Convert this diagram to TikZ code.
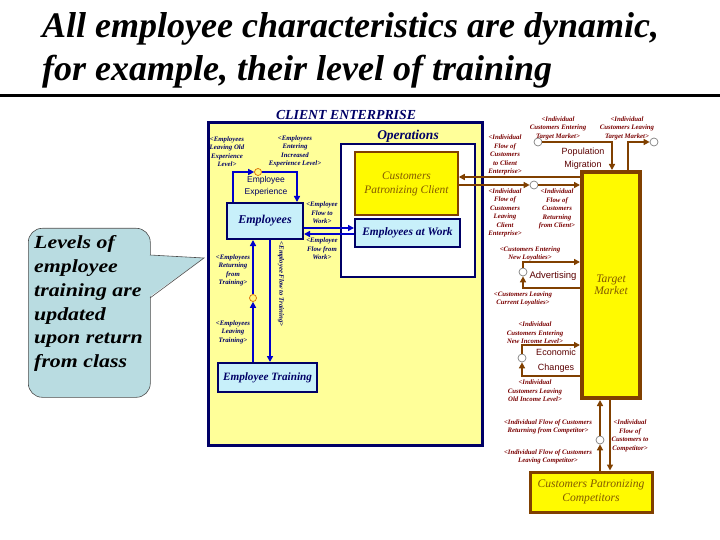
\documentclass[tikz,border=0pt]{standalone}
\usepackage{fontspec}
\setmainfont{Liberation Serif}
\newfontfamily\sansf{Liberation Sans}
\usetikzlibrary{arrows.meta,calc}
\definecolor{navy}{RGB}{0,0,102}
\definecolor{flowblue}{RGB}{0,0,204}
\definecolor{brownf}{RGB}{128,64,0}
\definecolor{lblred}{RGB}{120,0,0}
\definecolor{lightyel}{RGB}{255,255,153}
\definecolor{brightyel}{RGB}{255,250,0}
\definecolor{lightcyan}{RGB}{200,240,250}
\definecolor{calloutfill}{RGB}{185,220,225}
\definecolor{goldtext}{RGB}{130,90,0}
\definecolor{darkred}{RGB}{90,0,0}
\begin{document}
\begin{tikzpicture}[x=1pt,y=-1pt,
  outerbox/.style={draw=navy,fill=lightyel,line width=3pt,inner sep=0},
  opsbox/.style={draw=navy,fill=white,line width=2pt,inner sep=0},
  cyanbox/.style={draw=navy,fill=lightcyan,line width=2pt,inner sep=0,text=navy,font=\bfseries\itshape},
  yelbox/.style={draw=brownf,fill=brightyel,inner sep=0,text=goldtext,font=\itshape,align=center},
  bflow/.style={draw=flowblue,line width=2.4pt,-{Triangle[length=6pt,width=6pt]}},
  brflow/.style={draw=brownf,line width=2.4pt,-{Triangle[length=6pt,width=6pt]}},
  bvalve/.style={circle,draw=orange!85!black,fill=yellow!50,line width=0.7pt,minimum size=7pt,inner sep=0},
  cloudv/.style={circle,draw=gray,fill=white,line width=0.7pt,minimum size=8pt,inner sep=0},
  lbl/.style={font=\fontsize{6.8}{8.5}\selectfont\bfseries\itshape,align=center,inner sep=0,text=navy},
  rlbl/.style={lbl,text=lblred},
  sanslbl/.style={font=\sansf\fontsize{9}{13}\selectfont,align=center,inner sep=0},
  titletext/.style={font=\fontsize{36}{40}\selectfont\bfseries\itshape,inner sep=0,anchor=base west}]
\useasboundingbox (0,0) rectangle (720,540);
% title
\node[titletext] (t1) at (42,38) {All employee characteristics are dynamic,};
\node[titletext] (t2) at (42,81) {for example, their level of training};
\draw[line width=3pt] (0,96) -- (720,96);
% client enterprise
\node[font=\fontsize{13.8}{15}\selectfont\bfseries\itshape,text=navy,inner sep=0] (cetitle) at (346,115.5) {CLIENT ENTERPRISE};
\node[outerbox,minimum width=274pt,minimum height=322pt] (ce) at (345,284) {};
\node[font=\fontsize{13.5}{15}\selectfont\bfseries\itshape,text=navy,inner sep=0] (opstitle) at (408,136) {Operations};
\node[opsbox,minimum width=134pt,minimum height=133pt] (ops) at (408,210.5) {};
\node[yelbox,line width=1.5pt,minimum width=103pt,minimum height=63pt,font=\fontsize{11.4}{14}\selectfont\itshape] (cpc) at (406.5,183.5) {Customers\\Patronizing Client};
\node[cyanbox,minimum width=105pt,minimum height=28pt,font=\fontsize{11.4}{12}\selectfont\bfseries\itshape] (ew) at (407.5,233) {Employees at Work};
\node[cyanbox,minimum width=76pt,minimum height=36pt,font=\fontsize{12}{14}\selectfont\bfseries\itshape] (emp) at (265,221) {Employees};
\node[cyanbox,minimum width=99pt,minimum height=29pt,font=\fontsize{11.2}{12}\selectfont\bfseries\itshape] (et) at (267.5,377.5) {Employee Training};
\node[sanslbl,text=navy,font=\sansf\fontsize{8.5}{12.5}\selectfont] (eexp) at (266,186.5) {Employee\\Experience};
% right side boxes
\node[yelbox,line width=4pt,minimum width=58pt,minimum height=226pt,font=\fontsize{11.6}{12.5}\selectfont\itshape] (tm) at (611,285) {Target\\Market};
\node[yelbox,line width=3pt,minimum width=122pt,minimum height=40pt,font=\fontsize{11.6}{13.5}\selectfont\itshape] (comp) at (591,492) {Customers Patronizing\\Competitors};
\node[sanslbl,text=darkred] (popm) at (583,158.5) {Population\\Migration};
\node[sanslbl,text=darkred,font=\sansf\fontsize{9.5}{13}\selectfont] (adv) at (553,276) {Advertising};
\node[sanslbl,text=darkred,font=\sansf\fontsize{9}{15}\selectfont] (econ) at (556,360.5) {Economic\\Changes};
% callout
\node[draw=black!70,fill=calloutfill,line width=0.6pt,rounded corners=14pt,minimum width=122pt,minimum height=169pt,anchor=north west,inner sep=0] (cb) at (28,228) {};
\fill[calloutfill] (148,255) -- (204,258) -- (148,298) -- cycle;
\draw[black!70,line width=0.6pt] (150,255) -- (204,258) -- (150,298);
\node[font=\fontsize{18.5}{23.8}\selectfont\bfseries\itshape,align=left,anchor=north west,inner sep=0,xscale=1.18] (ct) at (34,235.5) {Levels of\\employee\\training are\\updated\\upon return\\from class};
% coordinates
\coordinate (c3) at (270,0);
\coordinate (c4) at (0,228);
\coordinate (c5) at (0,234);
\coordinate (c6) at (0,177);
\coordinate (c8) at (612,0);
\coordinate (c9) at (628,0);
\coordinate (c10b) at (0,288);
\coordinate (c10t) at (0,262);
\coordinate (c11b) at (0,376);
\coordinate (c11t) at (0,345);
\coordinate (c13) at (610,0);
% valves
\node[bvalve] (v1) at (258,172) {};
\node[bvalve] (v2) at (253,298) {};
\node[cloudv] (v7) at (534,185) {};
\node[cloudv] (v8) at (538,142) {};
\node[cloudv] (v9) at (654,142) {};
\node[cloudv] (v10) at (523,272) {};
\node[cloudv] (v11) at (522,358) {};
\node[cloudv] (v12) at (600,440) {};
% blue flows
\draw[bflow] ($(emp.north west)+(7,0)$) |- (v1);
\draw[bflow] (v1) -| ($(emp.north east)+(-7,0)$);
\draw[bflow] (et.north -| v2) -- (v2);
\draw[bflow] (v2) -- (emp.south -| v2);
\draw[bflow] (emp.south -| c3) -- (et.north -| c3);
\draw[bflow] (emp.east |- c4) -- (ew.west |- c4);
\draw[bflow] (ew.west |- c5) -- (emp.east |- c5);
% brown flows
\draw[brflow] (tm.west |- c6) -- (cpc.east |- c6);
\draw[brflow] (cpc.east |- v7) -- (v7);
\draw[brflow] (v7) -- (tm.west |- v7);
\draw[brflow] (v8) -| (tm.north -| c8);
\draw[brflow] (tm.north -| c9) |- (v9);
\draw[brflow] (tm.west |- c10b) -| (v10);
\draw[brflow] (v10) |- (tm.west |- c10t);
\draw[brflow] (tm.west |- c11b) -| (v11);
\draw[brflow] (v11) |- (tm.west |- c11t);
\draw[brflow] (comp.north -| v12) -- (v12);
\draw[brflow] (v12) -- (tm.south -| v12);
\draw[brflow] (tm.south -| c13) -- (comp.north -| c13);
% labels left
\node[lbl] (l1) at (227,151.5) {<Employees\\Leaving Old\\Experience\\Level>};
\node[lbl] (l2) at (295,151.5) {<Employees\\Entering\\Increased\\Experience Level>};
\node[lbl] (l3) at (322,213) {<Employee\\Flow to\\Work>};
\node[lbl] (l4) at (322,249) {<Employee\\Flow from\\Work>};
\node[lbl] (l5) at (233,270.5) {<Employees\\Returning\\from\\Training>};
\node[lbl] (l6) at (233,332) {<Employees\\Leaving\\Training>};
\node[lbl,rotate=-90] (l7) at (281,284) {<Employee Flow to Training>};
% labels right
\node[rlbl] (r1) at (558,128) {<Individual\\Customers Entering\\Target Market>};
\node[rlbl] (r2) at (627,128) {<Individual\\Customers Leaving\\Target Market>};
\node[rlbl] (r3) at (505,155) {<Individual\\Flow of\\Customers\\to Client\\Enterprise>};
\node[rlbl] (r4) at (505,213) {<Individual\\Flow of\\Customers\\Leaving\\Client\\Enterprise>};
\node[rlbl] (r5) at (557,209) {<Individual\\Flow of\\Customers\\Returning\\from Client>};
\node[rlbl] (r6) at (530,254) {<Customers Entering\\New Loyalties>};
\node[rlbl] (r7) at (523,299) {<Customers Leaving\\Current Loyalties>};
\node[rlbl] (r8) at (535,333) {<Individual\\Customers Entering\\New Income Level>};
\node[rlbl] (r9) at (535,391) {<Individual\\Customers Leaving\\Old Income Level>};
\node[rlbl] (r10) at (548,427) {<Individual Flow of Customers\\Returning from Competitor>};
\node[rlbl] (r11) at (548,457) {<Individual Flow of Customers\\Leaving Competitor>};
\node[rlbl] (r12) at (630,436) {<Individual\\Flow of\\Customers to\\Competitor>};
\end{tikzpicture}
\end{document}
